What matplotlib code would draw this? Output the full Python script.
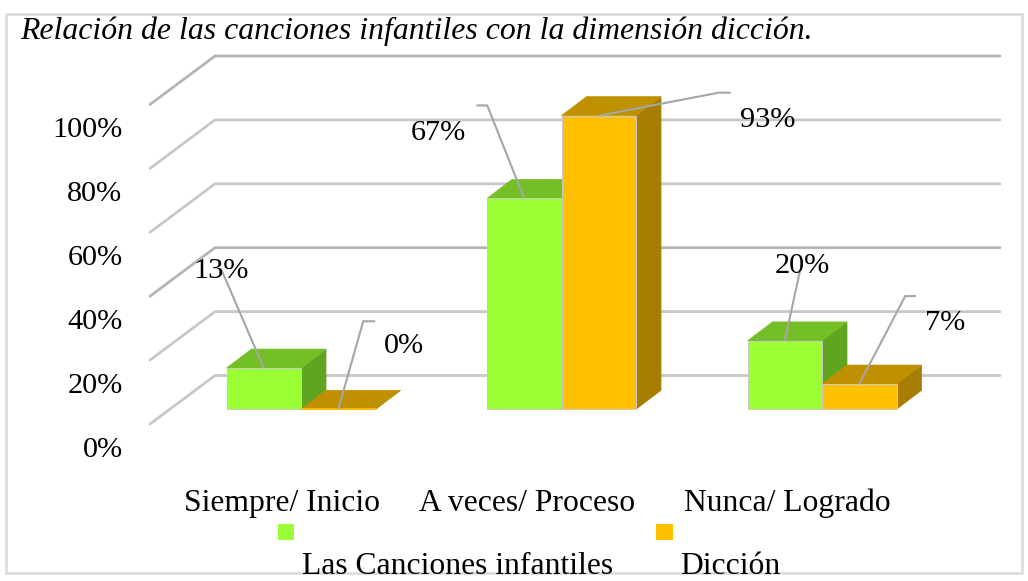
import matplotlib
matplotlib.use("Agg")
import matplotlib.pyplot as plt
from matplotlib.patches import Polygon, Rectangle
from matplotlib.transforms import Affine2D

# ---- data ----
title = "Relación de las canciones infantiles con la dimensión dicción."
categories = ["Siempre/ Inicio", "A veces/ Proceso", "Nunca/ Logrado"]
series_names = ["Las Canciones infantiles", "Dicción"]
canciones = [12.9, 66.0, 21.4]
diccion = [0.0, 91.9, 7.9]
canciones_labels = ["13%", "67%", "20%"]
diccion_labels = ["0%", "93%", "7%"]
ticks = [0, 20, 40, 60, 80, 100]
tick_labels = ["0%", "20%", "40%", "60%", "80%", "100%"]

# ---- layout ----
W, H = 1028, 581
X0, XS = 301.0, 260.5      # px of category 0 centre, px per category
Y0, YS = 409.3, 3.195      # px of value 0, px per value unit
BAR_W = 74.5 / XS
DX, DY = 25 / XS, 19 / YS  # 3-D depth
FLOOR_BACK = (Y0 - 375.5) / YS
FLOOR_FRONT = (Y0 - 424.0) / YS
FONT = "Liberation Serif"
FS = 21.8
FS_CAT = 22.8

fig = plt.figure(figsize=(W / 100, H / 100), dpi=100, facecolor="white")
ax = fig.add_axes([0, 0, 1, 1])
ax.set_xlim((0 - X0) / XS, (W - X0) / XS)
ax.set_ylim((Y0 - H) / YS, Y0 / YS)
ax.axis("off")
px = Affine2D().scale(1, -1).translate(0, H)

def cx(p):
    return (p - X0) / XS

def ptext(x, y, s, **kw):
    kw.setdefault("ha", "center")
    kw.setdefault("va", "center")
    kw.setdefault("fontsize", FS)
    kw.setdefault("family", FONT)
    ax.text(x, y, s, transform=px, color="black", clip_on=False, **kw)

# frame
ax.add_patch(Rectangle((6, 13.5), 1016, 559.5, transform=px, fill=False,
                       ec="#D9D9D9", lw=1.8, zorder=1))
ptext(20, 31.5, title, ha="left", style="italic", fontsize=22.9)

# gridlines on the side wall and back wall
for t, lab in zip(ticks, tick_labels):
    c = "#B5B5B5" if t in (40, 100) else "#C8C8C8"
    ax.plot([cx(150), cx(215), cx(1000)],
            [t + FLOOR_FRONT, t + FLOOR_BACK, t + FLOOR_BACK],
            color=c, lw=2.0, solid_capstyle="round", solid_joinstyle="miter", zorder=2)
    ax.text(cx(122.5), t - 12.6, lab, ha="right", va="center", fontsize=FS, family=FONT,
            color="black", zorder=6)

def bar3d(left, v, front, top, side, z):
    right = left + BAR_W
    ax.add_patch(Polygon([(right, 0), (right + DX, DY), (right + DX, v + DY), (right, v)],
                         fc=side, ec=side, lw=0.5, zorder=z))
    ax.add_patch(Polygon([(left, v), (left + DX, v + DY), (right + DX, v + DY), (right, v)],
                         fc=top, ec=top, lw=0.5, zorder=z))
    ax.add_patch(Rectangle((left, 0), BAR_W, v, fc=front, ec="#C9C9C9" if v > 1 else front,
                           lw=0.7 if v > 1 else 1.2, zorder=z + 0.1))

GREEN = ("#99FF33", "#74BF26", "#60A521")
ORANGE = ("#FFC000", "#BF9000", "#A67D00")
for i in range(len(categories)):
    bar3d(i - BAR_W, canciones[i], *GREEN, z=3 + i)
    bar3d(i, diccion[i], *ORANGE, z=3.3 + i)

# leader lines: pixel offsets from the centre of each bar's top-front edge
leaders_a = [[(-43, 100)], [(-37, 93), (-48, 93)], [(15, 69)]]
leaders_b = [[(25, 88), (37, 88)], [(120, 23), (132, 23)], [(46, 88), (57, 88)]]
label_pos_a = [(221, 271), (438, 133), (802, 266)]
label_pos_b = [(404, 346), (768, 120), (945, 323)]

def leader(x, v, offs):
    ox, oy = ax.transData.transform((x, v))
    pts = [(ox, oy)] + [(ox + a, oy + b) for a, b in offs]
    d = ax.transData.inverted().transform(pts)
    ax.plot(d[:, 0], d[:, 1], color="#A6A6A6", lw=1.5, zorder=8,
            solid_capstyle="butt", solid_joinstyle="miter")

for i in range(len(categories)):
    leader(i - BAR_W / 2, canciones[i], leaders_a[i])
    leader(i + BAR_W / 2, diccion[i], leaders_b[i])
    ptext(*label_pos_a[i], canciones_labels[i], zorder=9)
    ptext(*label_pos_b[i], diccion_labels[i], zorder=9)

# category labels
for (x0, x1), c in zip([(184, 381), (418, 637), (683, 892)], categories):
    ptext((x0 + x1) / 2, 503.5, c, fontsize=FS_CAT)

# legend
ax.add_patch(Rectangle((278, 524), 16, 16, transform=px, fc=GREEN[0], ec="none", zorder=5))
ax.add_patch(Rectangle((656, 524), 17, 16, transform=px, fc=ORANGE[0], ec="none", zorder=5))
ptext((302 + 613) / 2, 567, series_names[0], fontsize=FS_CAT)
ptext((681 + 780) / 2, 567, series_names[1], fontsize=FS_CAT)

fig.savefig("out.png", dpi=100, facecolor="white")
